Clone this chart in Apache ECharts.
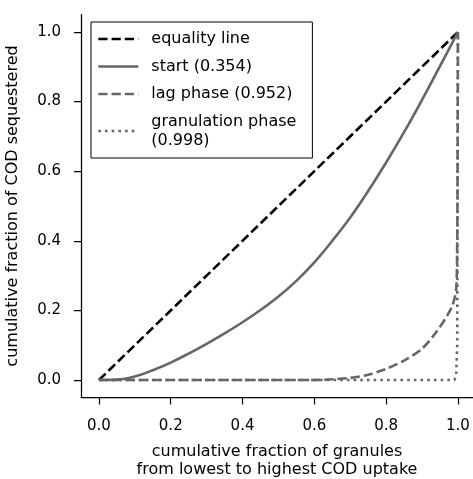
<!DOCTYPE html>
<html>
<head>
<meta charset="utf-8">
<script src="https://cdn.jsdelivr.net/npm/echarts@6/dist/echarts.min.js"></script>
<style>
  html, body { margin: 0; padding: 0; background: #fff; }
  #chart { width: 473px; height: 479px; }
</style>
</head>
<body>
<div id="chart"></div>
<script>
// Lorenz curves of COD uptake across granules (Gini coefficient in brackets)
const tickValues = [0, 0.2, 0.4, 0.6, 0.8, 1.0];

const equalityX = [0, 1];
const equalityY = [0, 1];

const startX = [0, 0.05, 0.1, 0.15, 0.2, 0.25, 0.3, 0.35, 0.4, 0.45, 0.5, 0.55, 0.6, 0.65, 0.7, 0.75, 0.8, 0.85, 0.9, 0.95, 1.0];
const startY = [0, 0.001, 0.01, 0.028, 0.05, 0.076, 0.104, 0.134, 0.166, 0.201, 0.240, 0.285, 0.338, 0.400, 0.467, 0.543, 0.625, 0.712, 0.805, 0.902, 1.0];

const lagX = [0, 0.6, 0.65, 0.7, 0.75, 0.8, 0.85, 0.9, 0.94, 0.97, 0.985, 0.995, 0.998, 0.999, 1.0];
const lagY = [0, 0, 0.002, 0.006, 0.015, 0.032, 0.056, 0.09, 0.138, 0.185, 0.215, 0.26, 0.4, 0.6, 1.0];

const granX = [0, 0.99, 0.995, 0.998, 1.0];
const granY = [0, 0, 0.01, 0.1, 1.0];

const names = ['equality line', 'start (0.354)', 'lag phase (0.952)', 'granulation phase\n(0.998)'];

const pairs = (xs, ys) => xs.map((x, i) => [x, ys[i]]);

const FONT = 'DejaVu Sans';
const GREY = '#666666';
const LW = 2.6;

const chart = echarts.init(document.getElementById('chart'), null, { renderer: 'canvas' });

const axisCommon = {
  type: 'value',
  splitLine: { show: false },
  axisLine: { show: true, onZero: false, lineStyle: { color: '#000', width: 1.25 } },
  axisTick: { show: true, inside: false, length: 7, lineStyle: { color: '#000', width: 1.25 }, customValues: tickValues },
  axisLabel: {
    customValues: tickValues,
    color: '#000', fontFamily: FONT, fontSize: 15,
    formatter: v => v.toFixed(1)
  },
  nameLocation: 'middle',
  nameTextStyle: { color: '#000', fontFamily: FONT, fontSize: 16 }
};

const lineSeries = (name, data, color, type, smooth) => ({
  name, type: 'line', data,
  symbol: 'none', showSymbol: false,
  smooth: smooth,
  animation: false,
  lineStyle: { color, width: LW, type, cap: 'butt', join: 'round' },
  itemStyle: { color }
});

chart.setOption({
  animation: false,
  backgroundColor: '#fff',
  grid: { left: 81, right: 0, top: 14.6, bottom: 81.6, containLabel: false, outerBoundsMode: 'none' },
  xAxis: Object.assign({}, axisCommon, {
    min: -0.05, max: 1.042,
    axisLabel: Object.assign({}, axisCommon.axisLabel, { margin: 21 }),
    name: 'cumulative fraction of granules\nfrom lowest to highest COD uptake',
    nameGap: 45,
    nameTextStyle: Object.assign({}, axisCommon.nameTextStyle, { lineHeight: 18 })
  }),
  yAxis: Object.assign({}, axisCommon, {
    min: -0.05, max: 1.05,
    axisLabel: Object.assign({}, axisCommon.axisLabel, { margin: 20 }),
    name: 'cumulative fraction of COD sequestered',
    nameRotate: 90,
    nameGap: 60
  }),
  legend: {
    show: true,
    orient: 'vertical',
    left: 91, top: 22,
    backgroundColor: '#fff',
    borderColor: '#000',
    borderWidth: 1,
    borderRadius: 0,
    padding: [7.5, 16, 8, 6],
    itemWidth: 40,
    itemHeight: 14,
    itemGap: 8.5,
    itemStyle: { opacity: 0, borderWidth: 0 },
    lineStyle: { width: LW },
    data: names,
    textStyle: { color: '#000', fontFamily: FONT, fontSize: 16, lineHeight: 19, padding: [0, 0, 0, 8] }
  },
  series: [
    lineSeries(names[0], pairs(equalityX, equalityY), '#000', [9.25, 4], false),
    lineSeries(names[1], pairs(startX, startY), GREY, 'solid', 0.4),
    lineSeries(names[2], pairs(lagX, lagY), GREY, [9.25, 4], 0.3),
    lineSeries(names[3], pairs(granX, granY), GREY, [2.6, 4.1], false)
  ]
});
</script>
</body>
</html>
